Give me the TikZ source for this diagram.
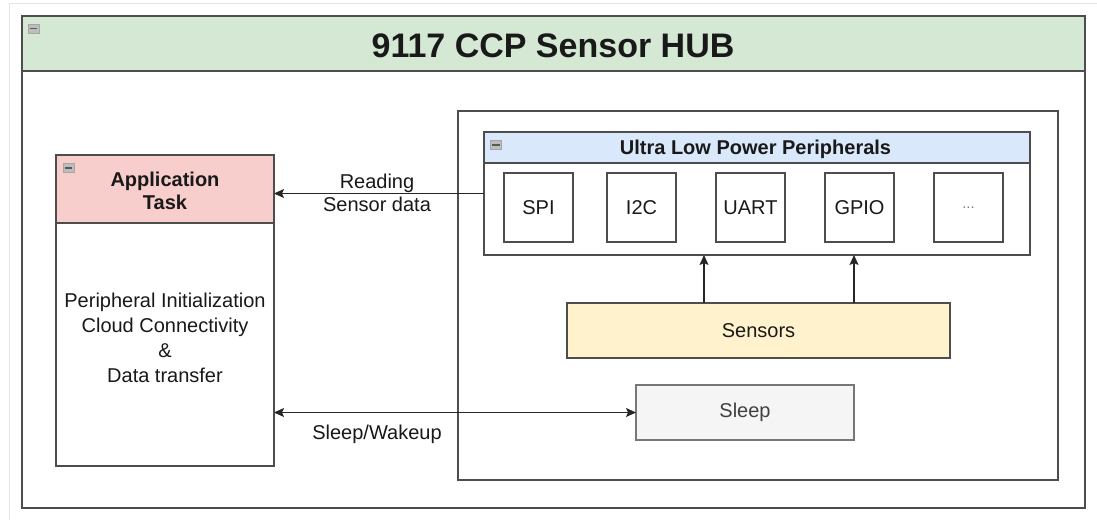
\documentclass[tikz,border=0pt]{standalone}
\usepackage{fontspec}
\setmainfont{Liberation Sans}
\usetikzlibrary{arrows.meta}
\definecolor{linec}{HTML}{4D4D4D}
\definecolor{greenc}{HTML}{D5E8D4}
\definecolor{pinkc}{HTML}{F8CECC}
\definecolor{bluec}{HTML}{DAE8FC}
\definecolor{yellowc}{HTML}{FFF2CC}
\definecolor{sleepc}{HTML}{F5F5F5}
\definecolor{sleepl}{HTML}{777777}
\definecolor{iconc}{HTML}{BDBDBD}
\begin{document}
\begin{tikzpicture}[x=1pt,y=-1pt,
  box/.style={draw=linec, line width=1.3pt, inner sep=0pt, outer sep=0pt},
  txt/.style={font=\fontsize{20}{25}\selectfont, align=center, inner sep=0pt, text=black!90},
  hdr/.style={font=\bfseries\fontsize{20}{23}\selectfont, align=center, inner sep=0pt, text=black!90},
  tip/.style={Stealth[length=10pt,width=9pt,inset=2pt]},
  conn/.style={draw=black!85, line width=1.3pt, -{Stealth[length=10pt,width=9pt,inset=2pt]}},
  icon/.style={draw=gray!70, fill=iconc, line width=0.6pt, minimum width=11pt, minimum height=9pt, inner sep=0pt},
  iconbar/.style={line width=1.6pt, draw=black!65},
  periphbox/.style={box, fill=white, minimum width=69pt, minimum height=69pt}]
\useasboundingbox (0,0) rectangle (1097,520);
\fill[white] (0,0) rectangle (1097,520);
\draw[gray!20, line width=1pt] (9,520) -- (9,3) -- (1097,3);

% outer hub
\node[box, fill=white, minimum width=1063pt, minimum height=492pt] (hub) at (553.5,262) {};
\node[box, fill=greenc, minimum width=1063pt, minimum height=55pt, anchor=north] (hubhead) at (hub.north) {};
\node[font=\bfseries\fontsize{34}{40}\selectfont, inner sep=0pt, text=black!90] (title) at (553,46) {9117 CCP Sensor HUB};
\node[icon] (ic1) at (33.5,28.5) {};
\draw[iconbar] ([xshift=2pt]ic1.west) -- ([xshift=-2pt]ic1.east);

% application task
\node[box, fill=white, minimum width=218pt, minimum height=311pt] (app) at (165,310.5) {};
\node[box, fill=pinkc, minimum width=218pt, minimum height=68pt, anchor=north] (apphead) at (app.north) {};
\node[hdr] (apptitle) at (165,191) {Application\\Task};
\node[icon] (ic2) at (68.5,168) {};
\draw[iconbar] ([xshift=2pt]ic2.west) -- ([xshift=-2pt]ic2.east);
\node[txt] (appbody) at (165,338) {Peripheral Initialization\\Cloud Connectivity\\\&\\Data transfer};

% right container
\node[box, fill=white, minimum width=600pt, minimum height=369pt] (cont) at (758,295.5) {};

% peripherals
\node[box, fill=white, minimum width=546pt, minimum height=123pt] (periph) at (757,193.5) {};
\node[box, fill=bluec, minimum width=546pt, minimum height=31pt, anchor=north] (periphhead) at (periph.north) {};
\node[hdr] (periphtitle) at (755.5,149) {Ultra Low Power Peripherals};
\node[icon] (ic3) at (496,145) {};
\draw[iconbar] ([xshift=2pt]ic3.west) -- ([xshift=-2pt]ic3.east);

\node[periphbox, txt] (spi) at (538.5,207.5) {SPI};
\node[periphbox, txt] (i2c) at (641.5,207.5) {I2C};
\node[periphbox, txt] (uart) at (750.5,207.5) {UART};
\node[periphbox, txt] (gpio) at (859.5,207.5) {GPIO};
\node[periphbox, font=\fontsize{15}{17}\selectfont, text=gray] (more) at (968.5,207.5) {...};

% sensors and sleep
\node[box, fill=yellowc, txt, minimum width=383pt, minimum height=55pt] (sensors) at (758.5,330.5) {Sensors};
\node[box, draw=sleepl, fill=sleepc, txt, text=black!75, minimum width=218pt, minimum height=55pt] (sleep) at (745,412.5) {Sleep};

% connectors
\draw[conn] (periph.west) -- (periph.west -| app.east);
\node[txt] (readlbl) at (377,193) {Reading\\[-2pt]Sensor data};
\draw[conn, {Stealth[length=10pt,width=9pt,inset=2pt]}-{Stealth[length=10pt,width=9pt,inset=2pt]}] (sleep.west -| app.east) -- (sleep.west);
\node[txt] (sleeplbl) at (377,434) {Sleep/Wakeup};
\draw[conn] ([xshift=-54.5pt]sensors.north) -- ([xshift=-54.5pt]sensors.north |- periph.south);
\draw[conn] ([xshift=95.5pt]sensors.north) -- ([xshift=95.5pt]sensors.north |- periph.south);
\end{tikzpicture}
\end{document}
